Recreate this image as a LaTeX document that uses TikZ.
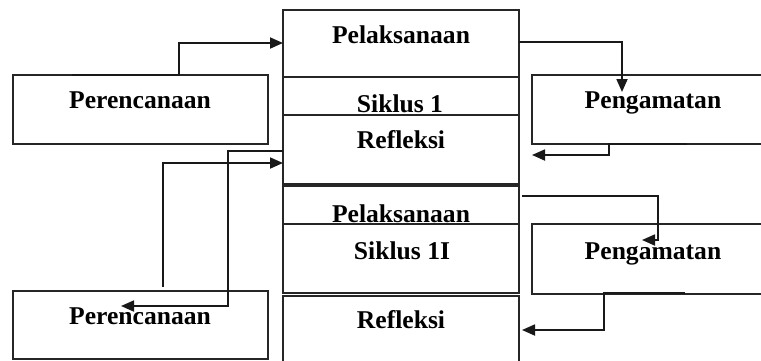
\documentclass[tikz,border=0pt]{standalone}
\usepackage{fontspec}
\setmainfont{Liberation Serif}
\usetikzlibrary{arrows.meta,calc}
\begin{document}
\begin{tikzpicture}[x=1bp,y=-1bp,
  box/.style={draw=black!85, line width=1.4bp},
  lbl/.style={anchor=base, inner sep=0pt, font=\fontsize{25.6bp}{30bp}\selectfont\bfseries},
  conn/.style={draw=black!90, line width=1.8bp, -{Triangle[length=13bp,width=11bp]}},
  plain/.style={draw=black!90, line width=1.8bp}]
\useasboundingbox (0,0) rectangle (761,360);
\clip (0,0) rectangle (761,360);
% center column
\draw[box] (283,10) rectangle (519,77) coordinate (pel1se);
\coordinate (pel1nw) at (283,10);
\draw[box] (283,77) rectangle (519,115);
\draw[box] (283,115) rectangle (519,184);
\draw[box] (283,186) rectangle (519,224);
\draw[box] (283,224) rectangle (519,293);
\draw[box] (283,296) rectangle (519,368);
% side boxes
\draw[box] (13,75) rectangle (268,144);
\draw[box] (532,75) rectangle (775,144);
\draw[box] (532,224) rectangle (775,294);
\draw[box] (13,291) rectangle (268,359);
% texts
\node[lbl] (tpel1) at (401,43) {Pelaksanaan};
\node[lbl] (tsik1) at (400,112) {Siklus 1};
\node[lbl] (tref1) at (401,148) {Refleksi};
\node[lbl] (tpel2) at (401,222) {Pelaksanaan};
\node[lbl] (tsik2) at (402,259) {Siklus 1I};
\node[lbl] (tref2) at (401,328) {Refleksi};
\node[lbl] (tper1) at (140,108) {Perencanaan};
\node[lbl] (tper2) at (140,324) {Perencanaan};
\node[lbl] (tpen1) at (653,108) {Pengamatan};
\node[lbl] (tpen2) at (653,259) {Pengamatan};
% connector anchor points
\coordinate (a1) at (72,75);  \coordinate (b1) at (283,43);
\coordinate (a2) at (519,42); \coordinate (b2) at (622,92);
\coordinate (a3) at (687,144);\coordinate (b3) at (532,155);
\coordinate (a4) at (283,151);\coordinate (b4) at (121,306);
\coordinate (a5) at (163,287);\coordinate (b5) at (283,163);
\coordinate (a6) at (522,196);\coordinate (b6) at (642,240);
\coordinate (a7) at (685,293);\coordinate (b7) at (522,330);
% connectors
\draw[conn] (a1) -- (179,75) -- (179,43) -- (b1);
\draw[conn] (a2) -- (622,42) -- (b2);
\draw[conn] (a3) -- (609,144) -- (609,155) -- (b3);
\draw[conn] (a4) -- (228,151) -- (228,306) -- (b4);
\draw[conn] (a5) -- (163,163) -- (b5);
\draw[conn] (a6) -- (658,196) -- (658,240) -- (b6);
\draw[conn] (a7) -- (604,293) -- (604,330) -- (b7);
\end{tikzpicture}
\end{document}
